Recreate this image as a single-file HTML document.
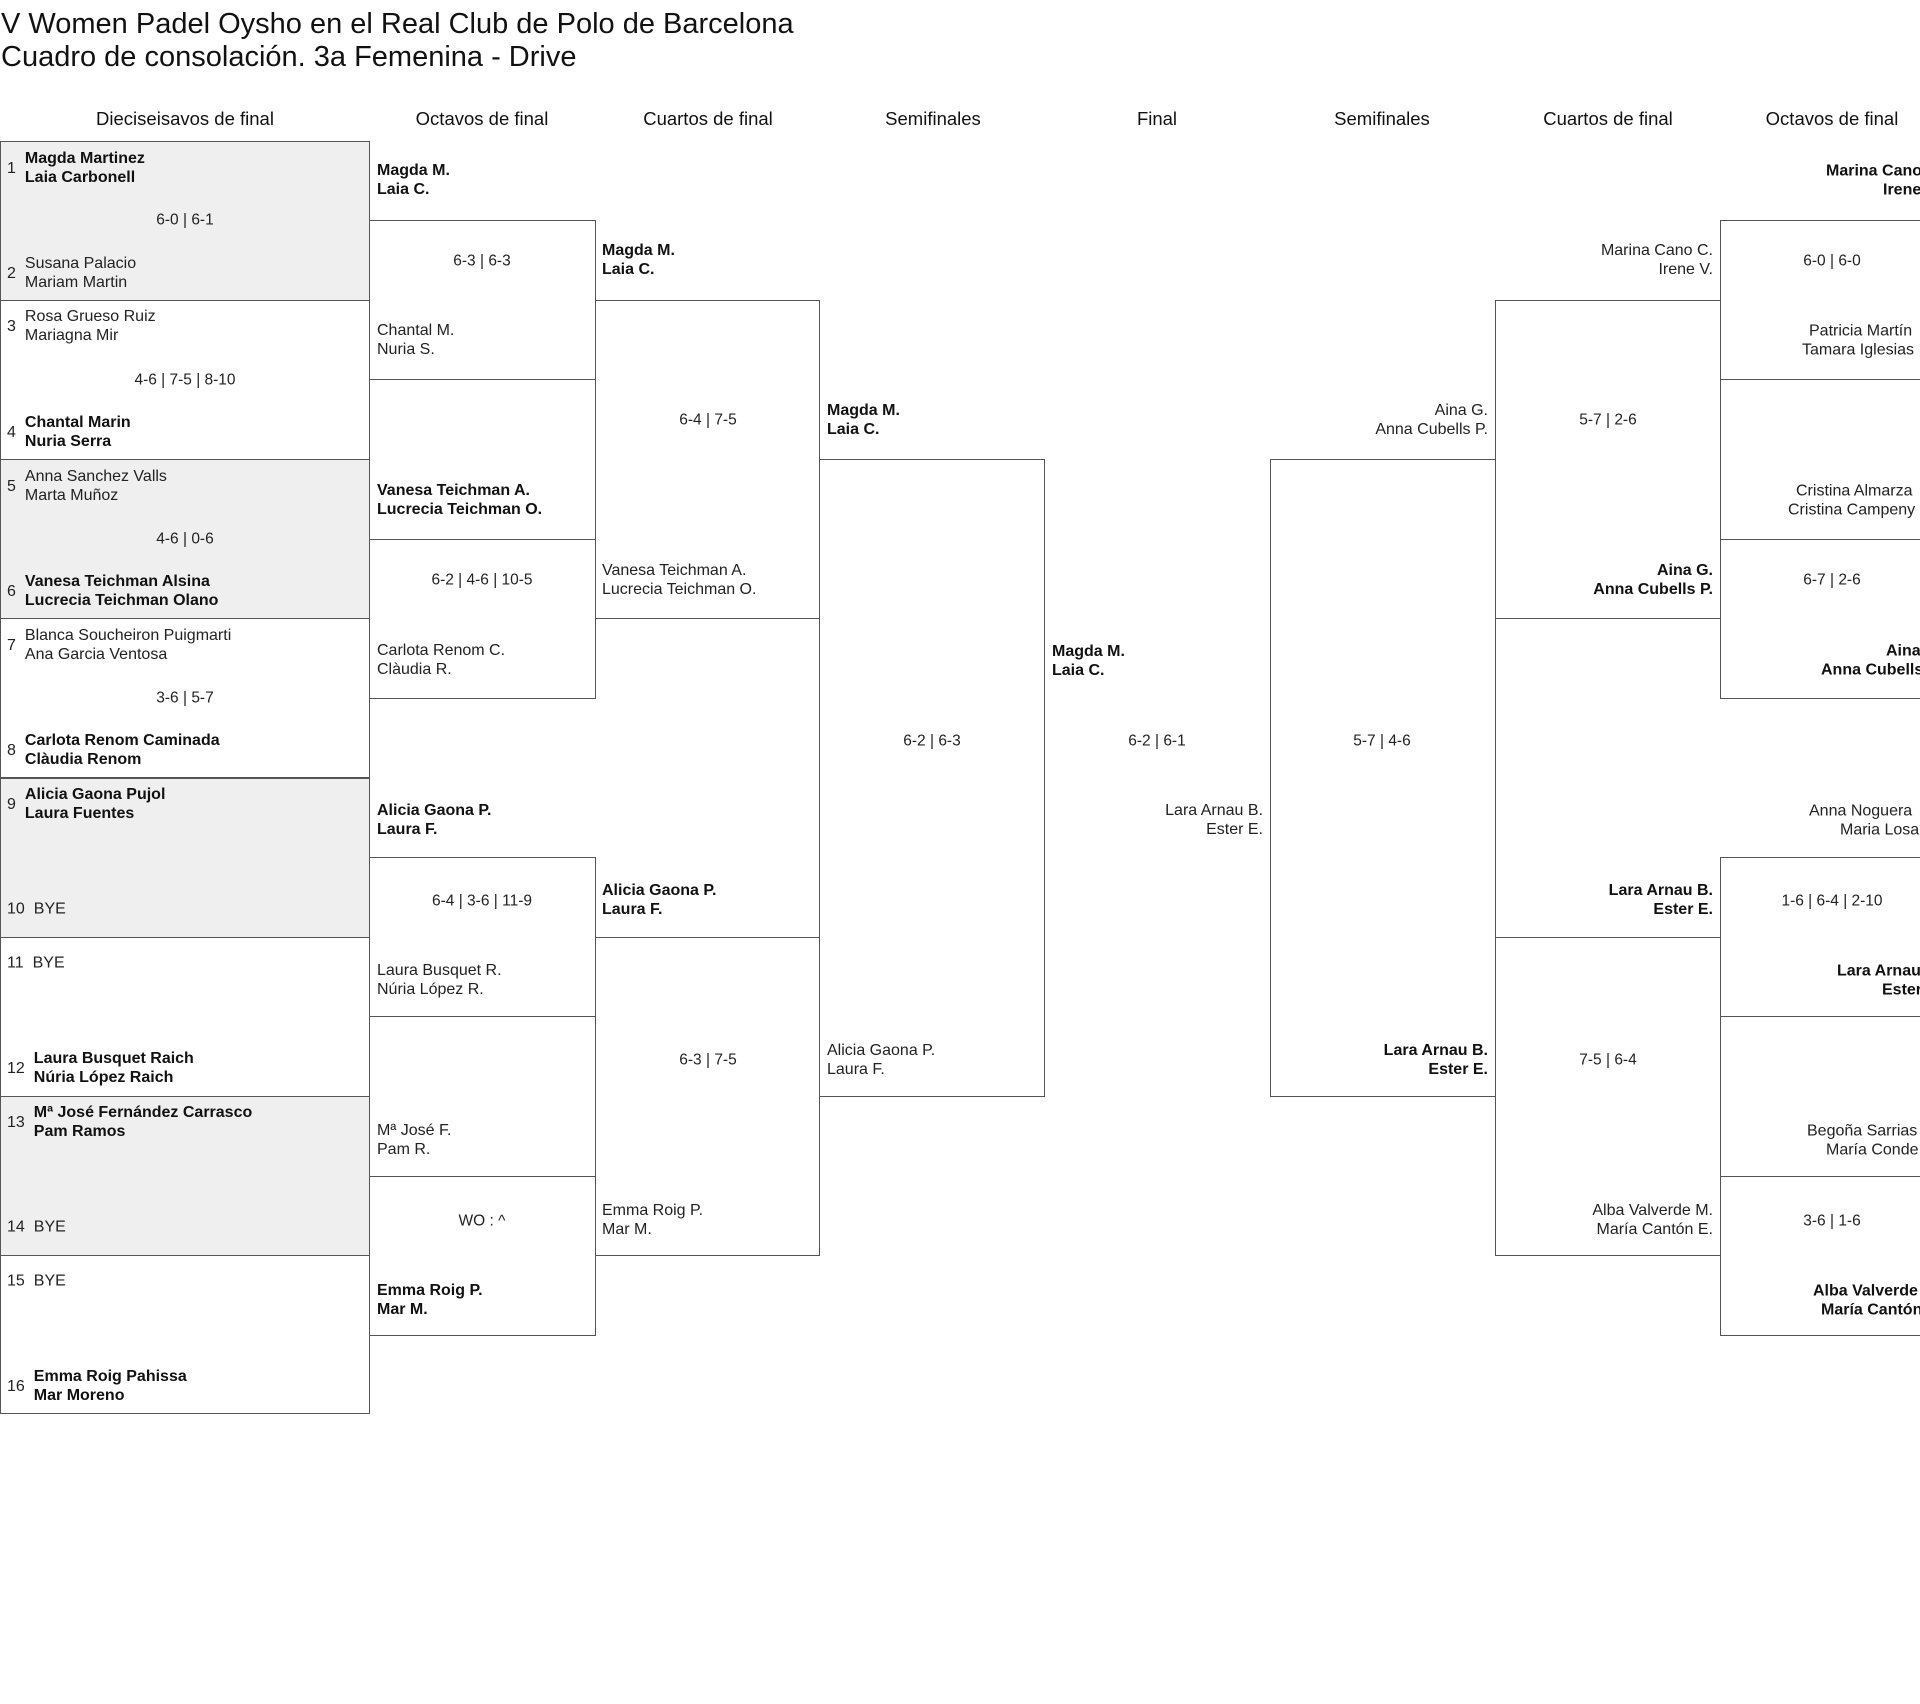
<!DOCTYPE html>
<html><head><meta charset="utf-8"><style>
html,body{margin:0;padding:0;background:#fff}
body{width:1920px;height:1704px;position:relative;overflow:hidden;font-family:"Liberation Sans",sans-serif;color:#222}
.t{position:absolute;left:1px;font-size:29px;line-height:33px;color:#111;white-space:nowrap}
.h{position:absolute;top:108px;font-size:18.5px;line-height:22px;transform:translateX(-50%);white-space:nowrap;color:#111}
.b{position:absolute;border:1px solid #555;box-sizing:border-box}
.g{background:#efefef}
.e{position:absolute;font-size:16px;line-height:19px;white-space:nowrap;transform:translateY(-50%)}
.r{text-align:right}
.w{font-weight:bold;color:#111}
.s{position:absolute;font-size:15.5px;line-height:19px;white-space:nowrap;transform:translate(-50%,-50%)}
.sl{position:absolute;left:7px;font-size:16px;line-height:19px;display:flex;align-items:center;transform:translateY(-50%);white-space:nowrap}
.sl .n{margin-right:9px}
</style></head><body>
<div class="t" style="top:8px">V Women Padel Oysho en el Real Club de Polo de Barcelona</div>
<div class="t" style="top:41px">Cuadro de consolación. 3a Femenina - Drive</div>

<div class="h" style="left:185px">Dieciseisavos de final</div>
<div class="h" style="left:482px">Octavos de final</div>
<div class="h" style="left:708px">Cuartos de final</div>
<div class="h" style="left:933px">Semifinales</div>
<div class="h" style="left:1157px">Final</div>
<div class="h" style="left:1382px">Semifinales</div>
<div class="h" style="left:1608px">Cuartos de final</div>
<div class="h" style="left:1832px">Octavos de final</div>

<div class="b g" style="left:0;top:141px;width:370px;height:160px"></div>
<div class="b" style="left:0;top:300px;width:370px;height:160px"></div>
<div class="b g" style="left:0;top:459px;width:370px;height:160px"></div>
<div class="b" style="left:0;top:618px;width:370px;height:160px"></div>
<div class="b g" style="left:0;top:778px;width:370px;height:160px"></div>
<div class="b" style="left:0;top:937px;width:370px;height:160px"></div>
<div class="b g" style="left:0;top:1096px;width:370px;height:160px"></div>
<div class="b" style="left:0;top:1255px;width:370px;height:159px"></div>

<div class="b" style="left:369px;top:220px;width:227px;height:160px"></div>
<div class="b" style="left:369px;top:539px;width:227px;height:160px"></div>
<div class="b" style="left:369px;top:857px;width:227px;height:160px"></div>
<div class="b" style="left:369px;top:1176px;width:227px;height:160px"></div>
<div class="b" style="left:595px;top:300px;width:225px;height:319px"></div>
<div class="b" style="left:595px;top:937px;width:225px;height:319px"></div>
<div class="b" style="left:819px;top:459px;width:226px;height:638px"></div>
<div class="b" style="left:1270px;top:459px;width:226px;height:638px"></div>
<div class="b" style="left:1495px;top:300px;width:226px;height:319px"></div>
<div class="b" style="left:1495px;top:937px;width:226px;height:319px"></div>
<div class="b" style="left:1720px;top:220px;width:226px;height:160px"></div>
<div class="b" style="left:1720px;top:539px;width:226px;height:160px"></div>
<div class="b" style="left:1720px;top:857px;width:226px;height:160px"></div>
<div class="b" style="left:1720px;top:1176px;width:226px;height:160px"></div>

<div class="sl" style="top:168px"><span class="n">1</span><div class="w">Magda Martinez<br>Laia Carbonell</div></div>
<div class="s" style="left:185px;top:220px">6-0 | 6-1</div>
<div class="sl" style="top:273px"><span class="n">2</span><div>Susana Palacio<br>Mariam Martin</div></div>

<div class="sl" style="top:326px"><span class="n">3</span><div>Rosa Grueso Ruiz<br>Mariagna Mir</div></div>
<div class="s" style="left:185px;top:380px">4-6 | 7-5 | 8-10</div>
<div class="sl" style="top:432px"><span class="n">4</span><div class="w">Chantal Marin<br>Nuria Serra</div></div>

<div class="sl" style="top:486px"><span class="n">5</span><div>Anna Sanchez Valls<br>Marta Muñoz</div></div>
<div class="s" style="left:185px;top:539px">4-6 | 0-6</div>
<div class="sl" style="top:591px"><span class="n">6</span><div class="w">Vanesa Teichman Alsina<br>Lucrecia Teichman Olano</div></div>

<div class="sl" style="top:645px"><span class="n">7</span><div>Blanca Soucheiron Puigmarti<br>Ana Garcia Ventosa</div></div>
<div class="s" style="left:185px;top:698px">3-6 | 5-7</div>
<div class="sl" style="top:750px"><span class="n">8</span><div class="w">Carlota Renom Caminada<br>Clàudia Renom</div></div>

<div class="sl" style="top:804px"><span class="n">9</span><div class="w">Alicia Gaona Pujol<br>Laura Fuentes</div></div>
<div class="sl" style="top:909px"><span class="n">10</span><div>BYE</div></div>

<div class="sl" style="top:963px"><span class="n">11</span><div>BYE</div></div>
<div class="sl" style="top:1068px"><span class="n">12</span><div class="w">Laura Busquet Raich<br>Núria López Raich</div></div>

<div class="sl" style="top:1122px"><span class="n">13</span><div class="w">Mª José Fernández Carrasco<br>Pam Ramos</div></div>
<div class="sl" style="top:1227px"><span class="n">14</span><div>BYE</div></div>

<div class="sl" style="top:1281px"><span class="n">15</span><div>BYE</div></div>
<div class="sl" style="top:1386px"><span class="n">16</span><div class="w">Emma Roig Pahissa<br>Mar Moreno</div></div>

<div class="e w" style="left:377px;top:180px">Magda M.<br>Laia C.</div>
<div class="s" style="left:482px;top:261px">6-3 | 6-3</div>
<div class="e" style="left:377px;top:340px">Chantal M.<br>Nuria S.</div>
<div class="e w" style="left:377px;top:500px">Vanesa Teichman A.<br>Lucrecia Teichman O.</div>
<div class="s" style="left:482px;top:580px">6-2 | 4-6 | 10-5</div>
<div class="e" style="left:377px;top:660px">Carlota Renom C.<br>Clàudia R.</div>
<div class="e w" style="left:377px;top:820px">Alicia Gaona P.<br>Laura F.</div>
<div class="s" style="left:482px;top:901px">6-4 | 3-6 | 11-9</div>
<div class="e" style="left:377px;top:980px">Laura Busquet R.<br>Núria López R.</div>
<div class="e" style="left:377px;top:1140px">Mª José F.<br>Pam R.</div>
<div class="s" style="left:482px;top:1221px">WO : ^</div>
<div class="e w" style="left:377px;top:1300px">Emma Roig P.<br>Mar M.</div>

<div class="e w" style="left:602px;top:260px">Magda M.<br>Laia C.</div>
<div class="s" style="left:708px;top:420px">6-4 | 7-5</div>
<div class="e" style="left:602px;top:580px">Vanesa Teichman A.<br>Lucrecia Teichman O.</div>
<div class="e w" style="left:602px;top:900px">Alicia Gaona P.<br>Laura F.</div>
<div class="s" style="left:708px;top:1060px">6-3 | 7-5</div>
<div class="e" style="left:602px;top:1220px">Emma Roig P.<br>Mar M.</div>

<div class="e w" style="left:827px;top:420px">Magda M.<br>Laia C.</div>
<div class="s" style="left:932px;top:741px">6-2 | 6-3</div>
<div class="e" style="left:827px;top:1060px">Alicia Gaona P.<br>Laura F.</div>

<div class="e w" style="left:1052px;top:661px">Magda M.<br>Laia C.</div>
<div class="s" style="left:1157px;top:741px">6-2 | 6-1</div>
<div class="e r" style="right:657px;top:820px">Lara Arnau B.<br>Ester E.</div>

<div class="e r" style="right:432px;top:420px">Aina G.<br>Anna Cubells P.</div>
<div class="s" style="left:1382px;top:741px">5-7 | 4-6</div>
<div class="e r w" style="right:432px;top:1060px">Lara Arnau B.<br>Ester E.</div>

<div class="e r" style="right:207px;top:260px">Marina Cano C.<br>Irene V.</div>
<div class="s" style="left:1608px;top:420px">5-7 | 2-6</div>
<div class="e r w" style="right:207px;top:580px">Aina G.<br>Anna Cubells P.</div>
<div class="e r w" style="right:207px;top:900px">Lara Arnau B.<br>Ester E.</div>
<div class="s" style="left:1608px;top:1060px">7-5 | 6-4</div>
<div class="e r" style="right:207px;top:1220px">Alba Valverde M.<br>María Cantón E.</div>

<div class="e w" style="left:1826px;top:171px">Marina Cano C.</div>
<div class="e w" style="left:1883px;top:190px">Irene V.</div>
<div class="s" style="left:1832px;top:261px">6-0 | 6-0</div>
<div class="e" style="left:1809px;top:331px">Patricia Martín</div>
<div class="e" style="left:1802px;top:350px">Tamara Iglesias</div>
<div class="e" style="left:1796px;top:491px">Cristina Almarza</div>
<div class="e" style="left:1788px;top:510px">Cristina Campeny</div>
<div class="s" style="left:1832px;top:580px">6-7 | 2-6</div>
<div class="e w" style="left:1886px;top:651px">Aina G.</div>
<div class="e w" style="left:1821px;top:670px">Anna Cubells P.</div>
<div class="e" style="left:1809px;top:811px">Anna Noguera</div>
<div class="e" style="left:1840px;top:830px">Maria Losa</div>
<div class="s" style="left:1832px;top:901px">1-6 | 6-4 | 2-10</div>
<div class="e w" style="left:1837px;top:971px">Lara Arnau B.</div>
<div class="e w" style="left:1882px;top:990px">Ester E.</div>
<div class="e" style="left:1807px;top:1131px">Begoña Sarrias</div>
<div class="e" style="left:1826px;top:1150px">María Conde</div>
<div class="s" style="left:1832px;top:1221px">3-6 | 1-6</div>
<div class="e w" style="left:1813px;top:1291px">Alba Valverde M.</div>
<div class="e w" style="left:1821px;top:1310px">María Cantón E.</div>
</body></html>
